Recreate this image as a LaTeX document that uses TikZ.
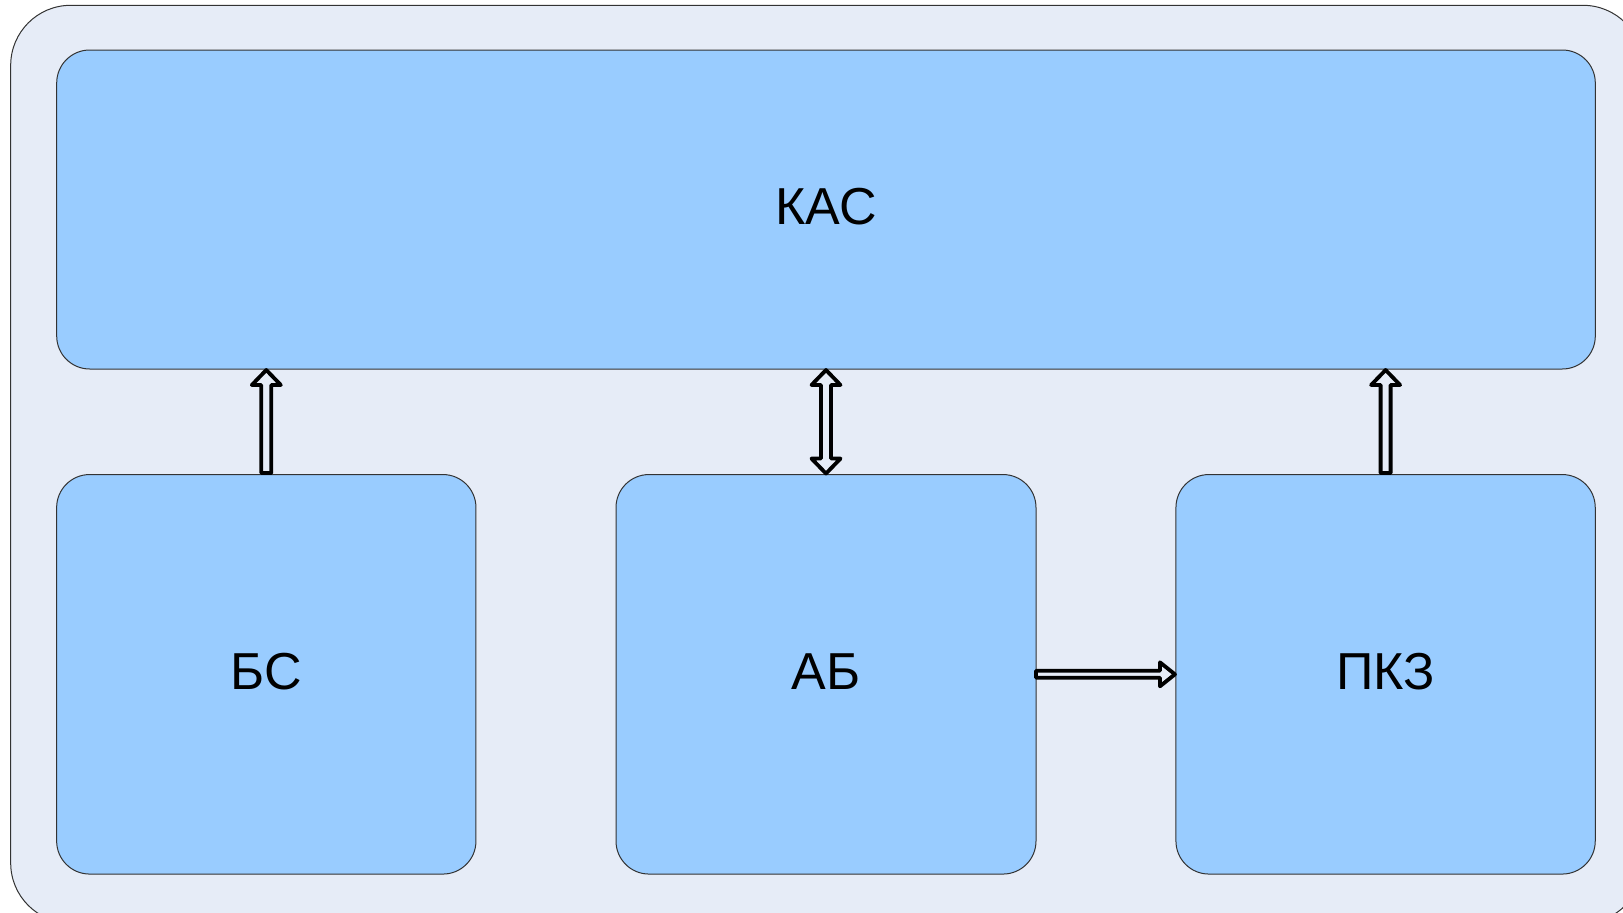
\documentclass[tikz,border=0pt]{standalone}
\usepackage{fontspec}
\setmainfont{Liberation Sans}
\usetikzlibrary{calc}
\definecolor{bgfill}{HTML}{E6ECF7}
\definecolor{boxfill}{HTML}{99CCFF}
\definecolor{edge}{HTML}{333333}
\tikzset{
  blockbox/.style={draw=edge, line width=1pt, fill=boxfill, rounded corners=33pt,
    inner sep=0pt, outer sep=0pt},
  boxlabel/.style={font=\fontsize{52}{62}\selectfont, inner sep=0pt, yshift=3pt},
  blockarrow/.style={draw=black, line width=3.8pt, fill=bgfill, line join=round}
}
\begin{document}
\begin{tikzpicture}[x=1pt,y=-1pt]
\useasboundingbox (0,0) rectangle (1623,913);
\clip (0,0) rectangle (1623,913);
\node[draw=edge, line width=1pt, fill=bgfill, rounded corners=60pt, inner sep=0pt,
  minimum width=1632.3pt, minimum height=917.7pt] (frame) at (826.85,464.15) {};
\node[blockbox, minimum width=1538.6pt, minimum height=319pt] (kas) at (826,209.5) {};
\node[blockbox, minimum width=419.3pt, minimum height=399.5pt] (bs) at (266.3,674.3) {};
\node[blockbox, minimum width=420pt, minimum height=399.5pt] (ab) at (826,674.3) {};
\node[blockbox, minimum width=419.3pt, minimum height=399.5pt] (pkz) at (1385.6,674.3) {};
\node[boxlabel] (kastext) at (kas.center) {КАС};
\node[boxlabel] (bstext) at (bs.center) {БС};
\node[boxlabel] (abtext) at (ab.center) {АБ};
\node[boxlabel] (pkztext) at (pkz.center) {ПКЗ};
% BS -> KAS
\draw[blockarrow] ($(bs.north)+(-5,-1.5)$) -- ($(bs.north|-kas.south)+(-5,16)$) -- ++(-9.5,0)
  -- ($(bs.north|-kas.south)+(0,1)$) -- ++(14.5,15) -- ++(-9.5,0) -- ($(bs.north)+(5,-1.5)$) -- cycle;
% AB <-> KAS
\draw[blockarrow] ($(ab.north|-kas.south)+(0,1)$) -- ++(14.5,15) -- ++(-9.5,0)
  -- ($(ab.north)+(5,-16)$) -- ++(9.5,0) -- ($(ab.north)+(0,-1)$) -- ++(-14.5,-15) -- ++(9.5,0)
  -- ($(ab.north|-kas.south)+(-5,16)$) -- ++(-9.5,0) -- cycle;
% PKZ -> KAS
\draw[blockarrow] ($(pkz.north)+(-5,-1.5)$) -- ($(pkz.north|-kas.south)+(-5,16)$) -- ++(-9.5,0)
  -- ($(pkz.north|-kas.south)+(0,1)$) -- ++(14.5,15) -- ++(-9.5,0) -- ($(pkz.north)+(5,-1.5)$) -- cycle;
% AB -> PKZ
\draw[blockarrow] ($(ab.east)+(0,-3.5)$) -- ($(pkz.west)+(-16,-3.5)$) -- ++(0,-8.5)
  -- ($(pkz.west)+(-1,0)$) -- ++(-15,12) -- ++(0,-8.5) -- ($(ab.east)+(0,3.5)$) -- cycle;
\end{tikzpicture}
\end{document}
